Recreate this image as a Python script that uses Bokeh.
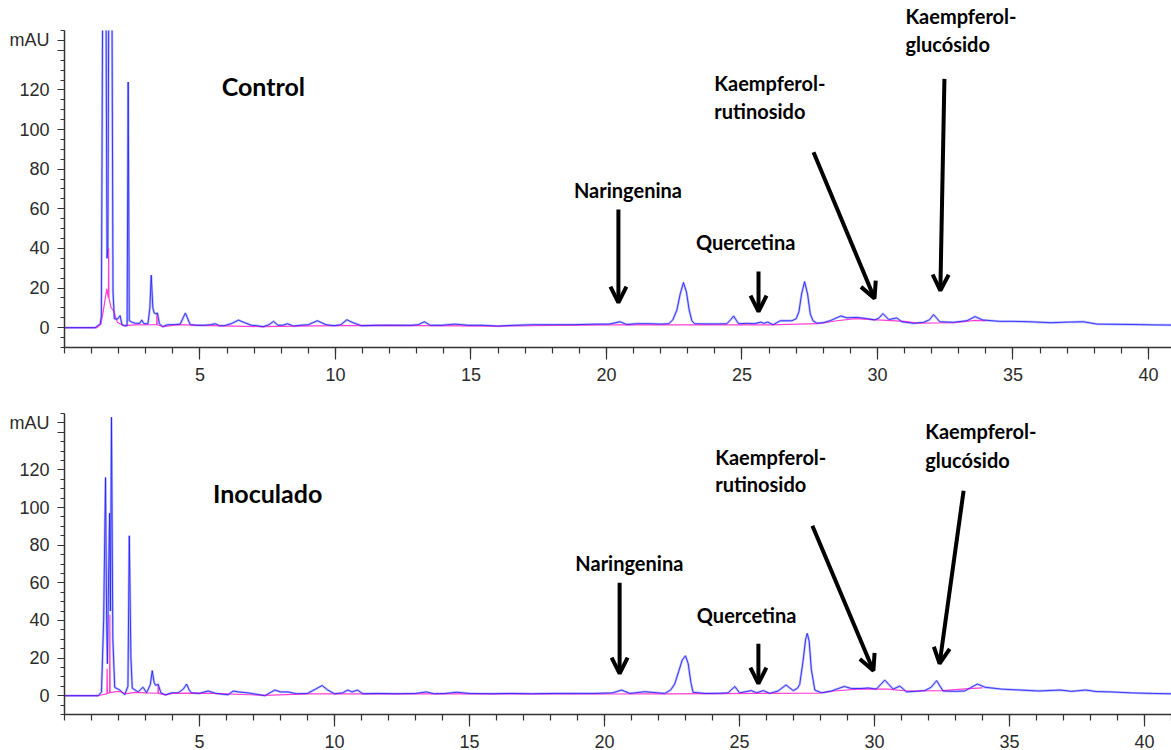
import math

from bokeh.plotting import figure
from bokeh.layouts import column
from bokeh.models import Range1d, FixedTicker, Label, Arrow, OpenHead
from bokeh.embed import file_html
from bokeh.resources import INLINE

# ---------------------------------------------------------------------------
# Chromatogram data: (retention time [min], absorbance [mAU])
# ---------------------------------------------------------------------------
control_signal = [
    (0.00, 0.0), (1.13, 0.0), (1.32, 1.9), (1.36, 6.0), (1.41, 170), (1.47, 260),
    (1.53, 170), (1.57, 35), (1.60, 40), (1.64, 190), (1.70, 260), (1.75, 170),
    (1.79, 18), (1.84, 4.5), (1.95, 4.3), (2.05, 6.1), (2.12, 1.5), (2.22, 1.0),
    (2.31, 1.0), (2.35, 124), (2.39, 3.5), (2.50, 2.7), (2.62, 2.2), (2.78, 2.2),
    (2.85, 3.9), (2.93, 2.0), (3.08, 2.0), (3.15, 10), (3.20, 26.5), (3.26, 10),
    (3.31, 7.4), (3.37, 7.0), (3.43, 7.4), (3.50, 2.0), (3.62, 0.5), (3.80, 1.5),
    (4.05, 1.5), (4.27, 1.8), (4.46, 7.4), (4.64, 1.5), (4.90, 1.2), (5.13, 1.2),
    (5.40, 1.5), (5.56, 2.0), (5.72, 1.0), (5.90, 1.0), (6.15, 2.0), (6.42, 3.8),
    (6.65, 2.5), (6.90, 1.2), (7.10, 1.0), (7.34, 0.5), (7.55, 1.5), (7.71, 3.2),
    (7.88, 1.2), (8.05, 1.2), (8.23, 2.0), (8.45, 0.8), (8.70, 1.2), (9.00, 1.5),
    (9.33, 3.5), (9.65, 1.5), (9.95, 1.0), (10.20, 1.5), (10.42, 4.0), (10.65, 2.5),
    (10.95, 1.0), (11.50, 1.2), (12.20, 1.2), (12.80, 1.2), (13.05, 1.5), (13.28, 3.0),
    (13.50, 1.2), (13.90, 1.2), (14.41, 1.8), (14.90, 1.2), (15.40, 1.2), (16.00, 0.8),
    (16.60, 1.2), (17.30, 1.5), (18.00, 1.5), (18.80, 1.5), (19.60, 1.8), (20.10, 1.8),
    (20.50, 3.0), (20.75, 1.6), (21.10, 2.0), (21.60, 2.0), (22.00, 1.8), (22.30, 2.0),
    (22.45, 4.0), (22.60, 9.0), (22.72, 17.0), (22.84, 22.8), (22.95, 18.0), (23.05, 9.0),
    (23.15, 3.5), (23.25, 2.0), (23.60, 1.9), (24.10, 1.9), (24.44, 2.0), (24.58, 4.0),
    (24.69, 5.9), (24.80, 3.5), (24.88, 2.0), (25.20, 2.2), (25.45, 2.0), (25.70, 2.8),
    (25.80, 2.2), (25.95, 2.8), (26.15, 1.5), (26.41, 3.5), (26.84, 3.5), (27.00, 4.5),
    (27.10, 8.0), (27.20, 17.0), (27.31, 23.3), (27.42, 17.0), (27.52, 7.0), (27.62, 3.5),
    (27.76, 2.3), (28.00, 2.5), (28.25, 3.5), (28.65, 5.9), (28.87, 5.0), (29.24, 5.2),
    (29.60, 4.6), (29.90, 3.9), (30.05, 4.8), (30.20, 7.1), (30.42, 4.1), (30.71, 4.9),
    (30.90, 3.0), (31.33, 2.2), (31.70, 2.7), (31.92, 4.0), (32.07, 6.6), (32.30, 3.0),
    (32.80, 2.7), (33.30, 3.5), (33.60, 5.6), (33.88, 3.9), (34.50, 3.2), (35.00, 3.2),
    (35.60, 3.0), (36.40, 2.5), (37.00, 2.8), (37.60, 3.0), (38.10, 1.8), (38.80, 1.7),
    (39.50, 1.6), (40.20, 1.4), (41.00, 1.3),
]

control_baseline = [
    (0.00, 0.0), (1.20, 0.0), (1.35, 2.0), (1.45, 10.0), (1.56, 19.6), (1.62, 15.0),
    (1.63, 40.0), (1.64, 15.0), (1.72, 10.0), (1.81, 8.6), (1.95, 2.7), (2.18, 1.0),
    (2.60, 1.4), (3.40, 1.5), (3.41, 7.0), (3.42, 1.5), (3.65, 0.5), (4.20, 1.5),
    (5.00, 1.2), (7.34, 0.5), (8.50, 0.8), (10.00, 1.0), (12.00, 1.2), (16.00, 0.8),
    (20.00, 1.4), (26.00, 1.4), (27.80, 2.0), (28.50, 3.5), (29.20, 4.6), (30.00, 3.9),
    (31.00, 3.2), (31.50, 2.3), (32.80, 2.5), (33.60, 3.7), (34.00, 3.6),
]

inoculado_signal = [
    (0.00, 0.0), (1.25, 0.0), (1.37, 2.0), (1.45, 40), (1.52, 116), (1.56, 40),
    (1.59, 17), (1.63, 60), (1.67, 97), (1.70, 45), (1.74, 148), (1.79, 30),
    (1.86, 4.4), (2.05, 3.0), (2.23, 0.5), (2.35, 5.0), (2.40, 85), (2.46, 20),
    (2.51, 4.0), (2.73, 2.0), (2.91, 4.5), (3.04, 1.5), (3.18, 6.0), (3.25, 13.3),
    (3.32, 7.0), (3.37, 5.5), (3.47, 6.0), (3.57, 1.5), (3.74, 0.4), (3.96, 1.5),
    (4.21, 1.5), (4.40, 3.5), (4.52, 6.2), (4.62, 3.0), (4.70, 1.5), (5.00, 1.2),
    (5.32, 2.5), (5.60, 1.2), (6.06, 0.5), (6.25, 2.5), (6.43, 2.0), (6.80, 1.5),
    (7.42, 0.0), (7.79, 3.0), (8.00, 2.0), (8.28, 2.0), (8.60, 1.0), (9.00, 1.2),
    (9.30, 3.5), (9.54, 5.4), (9.75, 3.0), (10.00, 1.0), (10.30, 1.5), (10.49, 3.0),
    (10.65, 2.0), (10.85, 3.0), (11.05, 1.0), (11.60, 1.2), (12.30, 1.0), (13.00, 1.2),
    (13.40, 2.0), (13.70, 1.0), (14.10, 1.2), (14.53, 1.8), (15.00, 1.2), (15.80, 1.0),
    (16.50, 1.2), (17.30, 1.0), (18.20, 1.2), (19.00, 1.2), (19.64, 1.2), (20.30, 1.5),
    (20.63, 3.0), (20.94, 1.2), (21.49, 2.1), (22.00, 1.5), (22.23, 1.2), (22.45, 3.0),
    (22.60, 6.2), (22.75, 13.0), (22.88, 19.0), (23.00, 21.2), (23.10, 17.0), (23.20, 7.0),
    (23.28, 1.8), (23.72, 1.2), (24.30, 1.3), (24.58, 1.5), (24.83, 4.9), (25.00, 1.5),
    (25.44, 2.7), (25.63, 1.5), (25.88, 2.7), (26.12, 1.2), (26.43, 2.5), (26.72, 5.7),
    (26.99, 2.7), (27.15, 4.0), (27.23, 6.0), (27.35, 18.0), (27.45, 30.0), (27.51, 33.1),
    (27.58, 29.0), (27.66, 14.0), (27.79, 3.0), (28.04, 1.5), (28.41, 2.5), (28.88, 4.9),
    (29.15, 3.8), (29.50, 3.8), (29.77, 4.1), (30.07, 3.5), (30.38, 8.3), (30.69, 3.5),
    (30.94, 5.1), (31.19, 2.0), (31.50, 2.3), (31.86, 2.7), (32.10, 4.5), (32.30, 8.0),
    (32.54, 2.5), (33.00, 2.3), (33.34, 2.5), (33.81, 6.2), (34.09, 4.5), (34.70, 3.5),
    (35.40, 3.0), (36.07, 2.5), (36.88, 3.0), (37.30, 2.3), (37.83, 3.0), (38.20, 2.2),
    (38.77, 2.0), (39.50, 1.5), (40.30, 1.2), (41.00, 1.0),
]

inoculado_baseline = [
    (0.00, 0.0), (1.25, 0.0), (1.40, 0.5), (1.57, 1.0), (1.58, 14.3), (1.59, 1.2),
    (1.67, 1.5), (1.68, 43.0), (1.69, 1.6), (1.85, 2.0), (2.05, 2.3), (2.25, 1.0),
    (2.60, 1.8), (3.00, 1.5), (3.46, 1.3), (3.47, 6.0), (3.48, 1.2), (3.74, 0.4),
    (4.00, 1.2), (4.70, 1.4), (5.50, 1.2), (7.42, 0.2), (9.00, 1.0), (11.00, 1.0),
    (20.00, 0.9), (22.30, 1.0), (27.90, 1.3), (28.50, 2.5), (29.50, 3.6), (30.50, 3.5),
    (31.20, 2.5), (32.50, 2.7), (33.50, 3.8), (34.00, 4.2),
]

x_ticks = [5, 10, 15, 20, 25, 30, 35, 40]
y_ticks = [0, 20, 40, 60, 80, 100, 120, 140, 145]
y_tick_text = {140: "", 145: "mAU"}

# displayed absorbance window of each panel
Y_MIN, Y_MAX = -10, 150

# ---------------------------------------------------------------------------
# Annotation layout per panel (data coordinates)
# ---------------------------------------------------------------------------
control_notes = {
    "title": ("Control", 5.80, 122.0),
    "labels": [
        ("Naringenina", 18.80, 69.4),
        ("Quercetina", 23.30, 43.5),
        ("Kaempferol-", 23.98, 123.5),
        ("rutinosido", 23.98, 109.4),
        ("Kaempferol-", 31.03, 157.5),
        ("glucósido", 31.03, 143.3),
    ],
    "arrows": [
        (20.44, 59.7, 20.44, 12.7),
        (25.61, 28.4, 25.61, 8.1),
        (27.64, 88.6, 29.89, 14.7),
        (32.47, 125.6, 32.32, 18.7),
    ],
}

inoculado_notes = {
    "title": ("Inoculado", 5.50, 107.8),
    "labels": [
        ("Naringenina", 18.92, 70.6),
        ("Quercetina", 23.42, 43.0),
        ("Kaempferol-", 24.10, 126.9),
        ("rutinosido", 24.10, 112.6),
        ("Kaempferol-", 31.88, 140.7),
        ("glucósido", 31.88, 125.3),
    ],
    "arrows": [
        (20.56, 60.0, 20.56, 11.7),
        (25.70, 27.6, 25.70, 6.4),
        (27.70, 90.3, 29.96, 13.3),
        (33.30, 108.9, 32.41, 17.0),
    ],
}

AXIS_FONT = "Liberation Sans"
NOTE_FONT = "Lato"
AXIS_COLOR = "#333333"


def clip_above(points, top):
    """Cut a polyline where it leaves the displayed window (open-topped peaks)."""
    ts, vs = [], []
    for i, (t, v) in enumerate(points):
        if i > 0:
            t0, v0 = points[i - 1]
            if (v0 - top) * (v - top) < 0:
                tc = t0 + (top - v0) * (t - t0) / (v - v0)
                ts.append(tc)
                vs.append(top)
                if v > top:
                    ts.append(tc)
                    vs.append(math.nan)
        if v <= top:
            ts.append(t)
            vs.append(v)
    return ts, vs


def chromatogram(signal, baseline, notes, x_end, y_top, frame_w, frame_h,
                 border_left, border_top):
    p = figure(
        frame_width=frame_w, frame_height=frame_h,
        x_range=Range1d(0, x_end), y_range=Range1d(Y_MIN, y_top),
        output_backend="svg", toolbar_location=None,
        min_border_left=border_left, min_border_right=0,
        min_border_top=border_top, min_border_bottom=10,
        background_fill_color="white", border_fill_color="white",
    )
    p.outline_line_color = None
    p.xgrid.visible = False
    p.ygrid.visible = False

    # axes
    for ax in (p.xaxis[0], p.yaxis[0]):
        ax.axis_line_color = AXIS_COLOR
        ax.axis_line_width = 1.5
        ax.major_tick_line_color = AXIS_COLOR
        ax.minor_tick_line_color = AXIS_COLOR
        ax.major_tick_line_width = 1.2
        ax.minor_tick_line_width = 1.2
        ax.major_tick_in = 0
        ax.minor_tick_in = 0
        ax.major_label_text_font = AXIS_FONT
        ax.major_label_text_font_size = "18px"
        ax.major_label_text_color = "#2b2b2b"

    p.xaxis.ticker = FixedTicker(ticks=x_ticks, minor_ticks=list(range(0, 42)))
    p.xaxis.major_tick_out = 12
    p.xaxis.minor_tick_out = 6
    p.xaxis.major_label_standoff = 8

    p.yaxis.ticker = FixedTicker(ticks=y_ticks,
                                 minor_ticks=list(range(Y_MIN, Y_MAX + 1, 5)))
    p.yaxis.bounds = (Y_MIN, Y_MAX)
    p.yaxis.major_tick_out = 7
    p.yaxis.minor_tick_out = 4
    p.yaxis.major_label_standoff = 8
    p.yaxis.major_label_overrides = y_tick_text

    # traces, limited to the displayed absorbance window
    st, sv = clip_above(signal, Y_MAX)
    bt, bv = clip_above(baseline, Y_MAX)
    p.line(st, sv, line_color="#b0b2ff", line_width=2.4, line_alpha=0.85)
    p.line(bt, bv, line_color="#ff3fd2", line_width=1.2)
    p.line(st, sv, line_color="#2020ff", line_width=1.0, line_alpha=0.85)

    # sample title
    tt, tx, ty = notes["title"]
    p.add_layout(Label(x=tx, y=ty, text=tt, text_font=NOTE_FONT,
                       text_font_size="25px", text_font_style="bold",
                       text_color="black", text_baseline="middle"))

    # compound names and arrows
    for text, lx, ly in notes["labels"]:
        p.add_layout(Label(x=lx, y=ly, text=text, text_font=NOTE_FONT,
                           text_font_size="20px", text_font_style="bold",
                           text_color="black", text_baseline="middle"))
    for x0, y0, x1, y1 in notes["arrows"]:
        p.add_layout(Arrow(
            end=OpenHead(size=16, line_width=4, line_color="black"),
            x_start=x0, y_start=y0, x_end=x1, y_end=y1,
            line_width=4, line_color="black"))
    return p


# upper panel: frame reaches the canvas top so the highest note fits inside
top = chromatogram(control_signal, control_baseline, control_notes,
                   x_end=40.96, y_top=165.14, frame_w=1110, frame_h=347,
                   border_left=61, border_top=0)
bottom = chromatogram(inoculado_signal, inoculado_baseline, inoculado_notes,
                      x_end=41.0, y_top=Y_MAX, frame_w=1107, frame_h=301,
                      border_left=64, border_top=30)

layout = column(top, bottom, spacing=0)

open("out.html", "w").write(file_html(layout, INLINE))
